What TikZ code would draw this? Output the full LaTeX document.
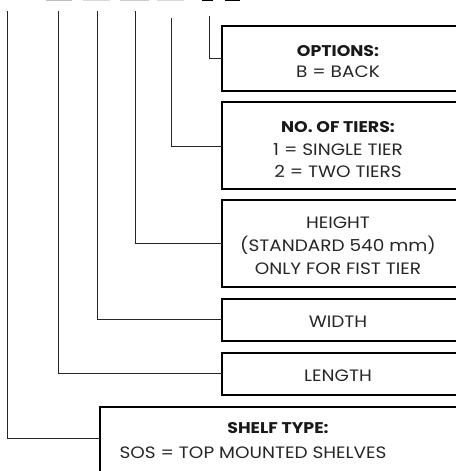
\documentclass[tikz,border=0pt]{standalone}
\usepackage{fontspec}
\setmainfont{Poppins}[FakeStretch=1.12]
\begin{document}
\begin{tikzpicture}[x=1pt,y=-1pt,
  box/.style={draw=black,line width=1.4pt},
  lead/.style={draw=black!85,line width=0.9pt},
  txt/.style={anchor=base,font=\fontsize{16.5}{22}\selectfont,text=black!85,inner sep=0pt},
  lbl/.style={anchor=base,font=\fontsize{15.5}{22}\selectfont\bfseries,text=black!90,inner sep=0pt}]
\useasboundingbox (0,0) rectangle (455,471);
% cut-off marks at top
\fill[black!25] (46,0) rectangle (72,1.4);
\fill[black!15] (83,0) rectangle (110,1.4);
\fill[black!20] (120,0) rectangle (149,1.4);
\fill[black!15] (157,0) rectangle (184,1.4);
\fill[black] (202,0) rectangle (213,1.4);
\fill[black] (225,0) rectangle (240,1.4);
% boxes
\draw[box] (222,26) rectangle (457,91);
\draw[box] (222,102) rectangle (457,189);
\draw[box] (222,200) rectangle (457,287);
\draw[box] (222,299) rectangle (457,341);
\draw[box] (222,353) rectangle (457,395);
\draw[box] (100,407) rectangle (457,480);
\coordinate (bopt) at (222,58);
\coordinate (btier) at (222,146);
\coordinate (bhgt) at (222,243);
\coordinate (bwid) at (222,319);
\coordinate (blen) at (222,373);
\coordinate (bshelf) at (100,438);
\coordinate (topt) at (209,16);
\coordinate (ttier) at (171,18);
\coordinate (thgt) at (135,11);
\coordinate (twid) at (97,11);
\coordinate (tlen) at (58,11);
\coordinate (tshelf) at (7,11);
\draw[lead] (topt) |- (bopt);
\draw[lead] (ttier) |- (btier);
\draw[lead] (thgt) |- (bhgt);
\draw[lead] (twid) |- (bwid);
\draw[lead] (tlen) |- (blen);
\draw[lead] (tshelf) |- (bshelf);
% texts
\node[lbl] (nopt) at (338,56) {OPTIONS:};
\node[txt] (vopt) at (338,77) {B = BACK};
\node[lbl] (ntier) at (338,132) {NO. OF TIERS:};
\node[txt] (vtier1) at (338,155) {1 = SINGLE TIER};
\node[txt] (vtier2) at (338,177) {2 = TWO TIERS};
\node[txt] (vhgt1) at (338,228) {HEIGHT};
\node[txt] (vhgt2) at (338,251) {(STANDARD 540 mm)};
\node[txt] (vhgt3) at (338,274) {ONLY FOR FIST TIER};
\node[txt] (vwid) at (338,327) {WIDTH};
\node[txt] (vlen) at (338,381) {LENGTH};
\node[lbl] (nshelf) at (278,433) {SHELF TYPE:};
\node[txt] (vshelf) at (253,458) {SOS = TOP MOUNTED SHELVES};
\end{tikzpicture}
\end{document}
